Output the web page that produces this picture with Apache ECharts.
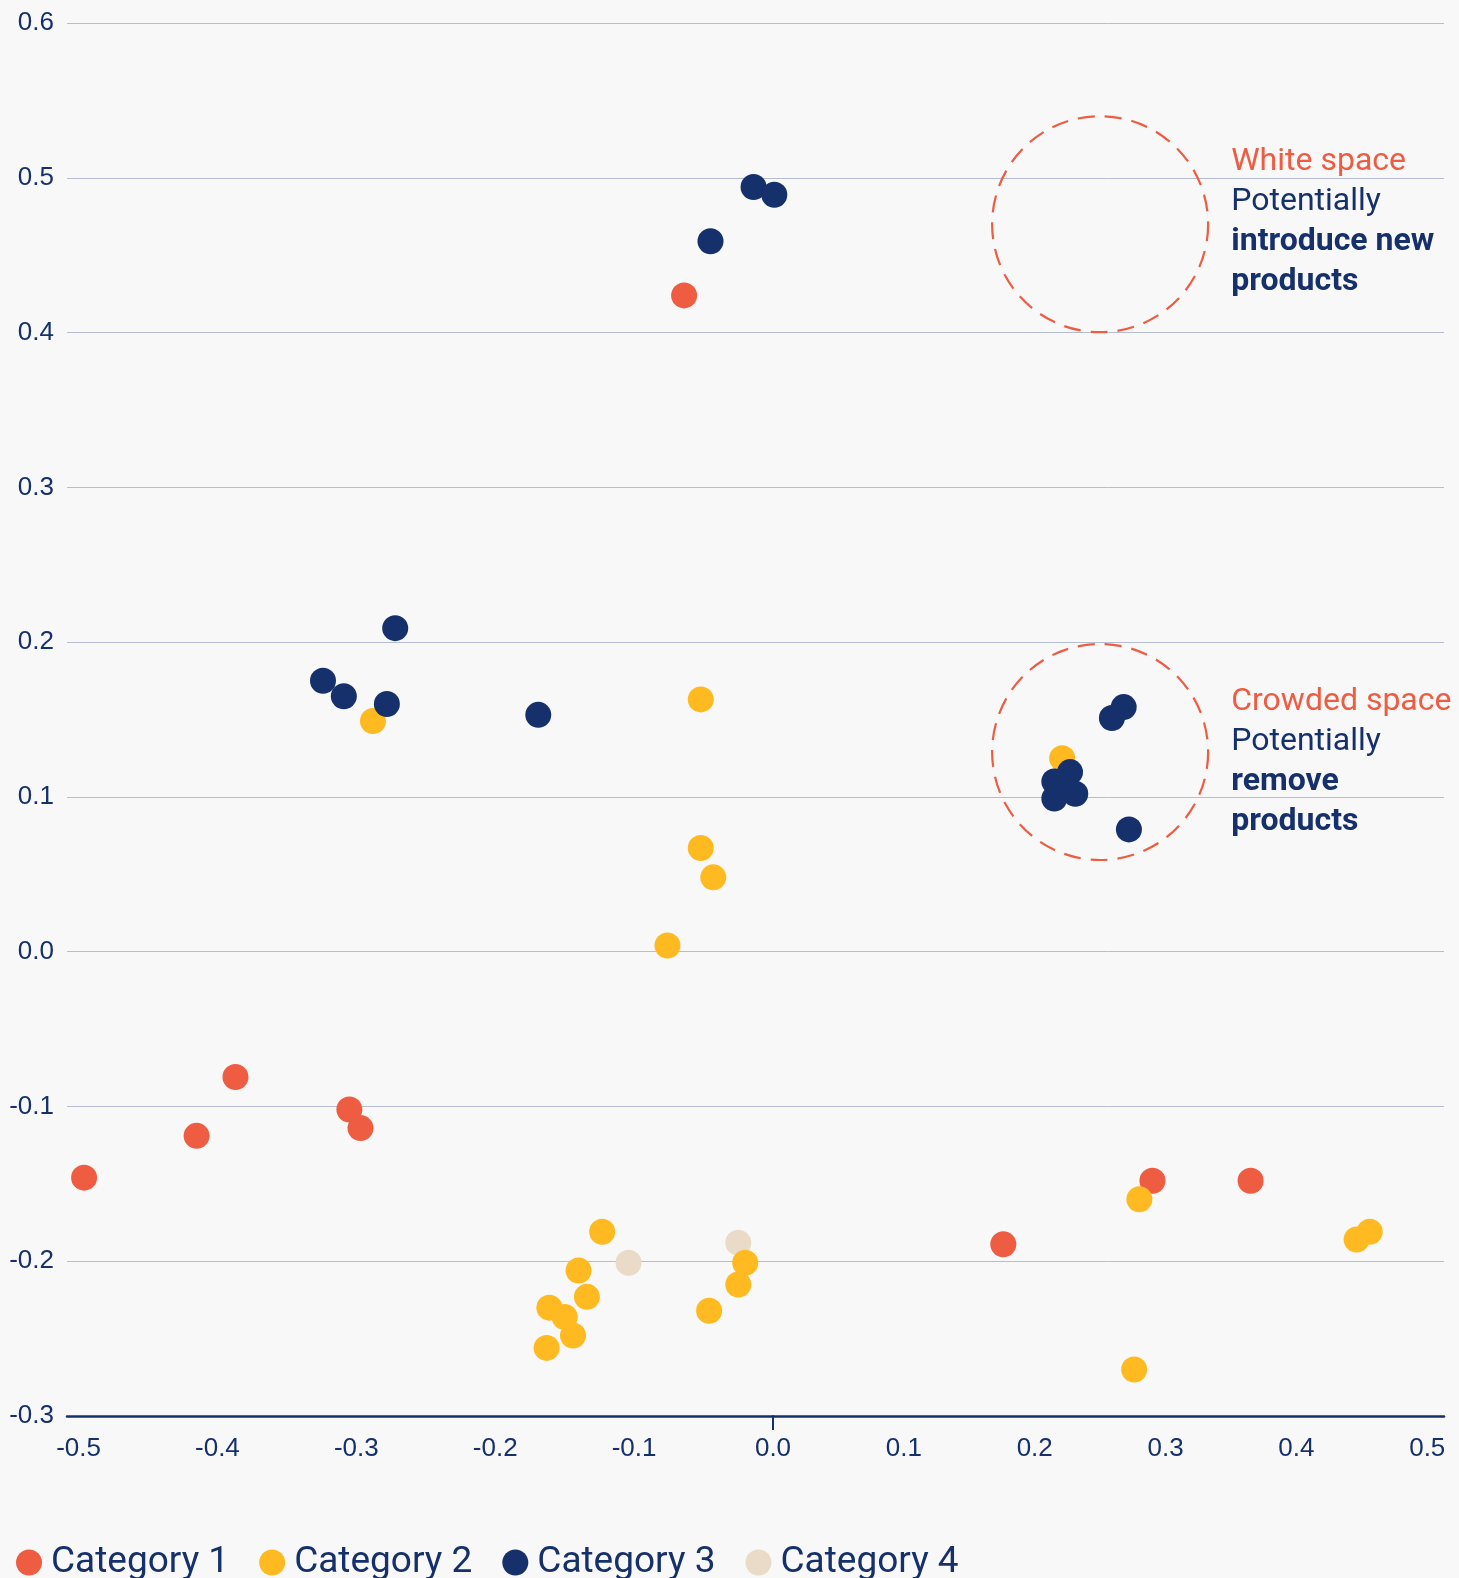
<!DOCTYPE html>
<html>
<head>
<meta charset="utf-8">
<title>Category map</title>
<script src="https://cdn.jsdelivr.net/npm/echarts@6/dist/echarts.min.js"></script>
<style>
  html, body { margin: 0; padding: 0; background: #f8f8f8; }
  #chart { width: 1459px; height: 1578px; }
</style>
</head>
<body>
<div id="chart"></div>
<script>
// ---- data ---------------------------------------------------------------
const categoryNames = ['Category 1', 'Category 2', 'Category 3', 'Category 4'];

// [x, y] positions of each item
const category1 = [
  [-0.064, 0.424], [-0.387, -0.081], [-0.415, -0.119], [-0.496, -0.146],
  [-0.305, -0.102], [-0.297, -0.114], [0.176, -0.189], [0.290, -0.148],
  [0.365, -0.148]
];
const category2 = [
  [-0.288, 0.149], [-0.052, 0.163], [-0.052, 0.067], [-0.043, 0.048],
  [-0.076, 0.004], [0.221, 0.125], [0.280, -0.160], [0.276, -0.270],
  [0.446, -0.186], [0.456, -0.181], [-0.123, -0.181], [-0.140, -0.206],
  [-0.134, -0.223], [-0.161, -0.230], [-0.150, -0.236], [-0.144, -0.248],
  [-0.163, -0.256], [-0.020, -0.201], [-0.025, -0.215], [-0.046, -0.232]
];
const category3 = [
  [-0.014, 0.494], [0.001, 0.489], [-0.045, 0.459], [-0.272, 0.209],
  [-0.324, 0.175], [-0.309, 0.165], [-0.278, 0.160], [-0.169, 0.153],
  [0.268, 0.158], [0.259, 0.151], [0.227, 0.116], [0.215, 0.110],
  [0.231, 0.102], [0.215, 0.099], [0.272, 0.079]
];
const category4 = [
  [-0.104, -0.201], [-0.025, -0.188]
];

const xLabelsNegative = [-0.5, -0.4, -0.3, -0.2, -0.1];
const xLabelsPositive = [0, 0.1, 0.2, 0.3, 0.4, 0.5];

// highlighted zones: centre, heading, remark lines
const zoneHeadings = ['White space', 'Crowded space'];
const zoneCenters = [[0.25, 0.47], [0.25, 0.129]];
const zoneRemarks = [
  ['Potentially', 'introduce new', 'products'],
  ['Potentially', 'remove', 'products']
];

// ---- styling ------------------------------------------------------------
const NAVY = '#15306b';
const CORAL = '#ee5c42';
const colors = ['#ee5c42', '#ffb921', '#15306b', '#e9dbc7'];
const layerOrder = [2, 3, 4, 1];
const FONT = 'Roboto';
const TICK_FONT = 'Liberation Sans';
const zoneLabelShift = [-2, 10];

const fmt = v => (Math.abs(v) < 1e-9 ? '0.0' : v.toFixed(1));

const categoryData = [category1, category2, category3, category4];

// the horizontal scale is split at zero: left half and right half
const series = [];
categoryData.forEach((points, i) => {
  [0, 1].forEach(side => {
    series.push({
      type: 'scatter',
      name: categoryNames[i],
      xAxisIndex: side,
      yAxisIndex: side,
      data: points.filter(p => (side === 0 ? p[0] < 0 : p[0] >= 0)),
      symbol: 'circle',
      symbolSize: 26,
      itemStyle: { color: colors[i], opacity: 1 },
      z: layerOrder[i],
      silent: true,
      emphasis: { disabled: true }
    });
  });
});

zoneCenters.forEach((c, k) => {
  const lines = ['{t|' + zoneHeadings[k] + '}', '{n|' + zoneRemarks[k][0] + '}']
    .concat(zoneRemarks[k].slice(1).map(s => '{b|' + s + '}'));
  series.push({
    type: 'scatter',
    xAxisIndex: 1,
    yAxisIndex: 1,
    data: [c],
    symbol: 'circle',
    symbolSize: 216,
    z: 0,
    silent: true,
    emphasis: { disabled: true },
    itemStyle: {
      color: 'rgba(0,0,0,0)',
      opacity: 1,
      borderColor: CORAL,
      borderWidth: 2.2,
      borderType: [17, 10]
    },
    label: {
      show: true,
      opacity: 1,
      position: 'right',
      distance: 22,
      offset: [0, zoneLabelShift[k]],
      align: 'left',
      formatter: lines.join('\n'),
      rich: {
        t: { fontFamily: FONT, fontSize: 32, lineHeight: 40, color: CORAL },
        n: { fontFamily: FONT, fontSize: 32, lineHeight: 40, color: NAVY },
        b: { fontFamily: FONT, fontSize: 32, lineHeight: 40, color: NAVY, fontWeight: 'bold' }
      }
    }
  });
});

const gridTop = 23;
const gridHeight = 1393;

const yAxisBase = {
  type: 'value',
  min: -0.3,
  max: 0.6,
  interval: 0.1,
  axisLine: { show: false, onZero: false },
  axisTick: { show: false },
  splitLine: { show: true, lineStyle: { color: '#b4bdd2', width: 1 } }
};

const xAxisBase = {
  type: 'value',
  splitLine: { show: false },
  axisLine: { show: true, onZero: false, lineStyle: { color: NAVY, width: 2.5 } },
  axisLabel: {
    fontFamily: TICK_FONT, fontSize: 26, color: NAVY, margin: 20,
    formatter: fmt, showMinLabel: true, showMaxLabel: true
  }
};

const option = {
  backgroundColor: '#f8f8f8',
  animation: false,
  grid: [
    { left: 67, width: 706, top: gridTop, height: gridHeight },
    { left: 773, width: 671, top: gridTop, height: gridHeight }
  ],
  xAxis: [
    Object.assign({}, xAxisBase, {
      gridIndex: 0, min: -0.5083, max: 0,
      axisTick: { show: false },
      axisLabel: Object.assign({}, xAxisBase.axisLabel, { customValues: xLabelsNegative })
    }),
    Object.assign({}, xAxisBase, {
      gridIndex: 1, min: 0, max: 0.5128,
      axisTick: { show: true, customValues: [0], length: 14, lineStyle: { color: NAVY, width: 2 } },
      axisLabel: Object.assign({}, xAxisBase.axisLabel, { customValues: xLabelsPositive })
    })
  ],
  yAxis: [
    Object.assign({}, yAxisBase, {
      gridIndex: 0,
      axisLabel: { fontFamily: TICK_FONT, fontSize: 26, color: NAVY, margin: 13, formatter: fmt }
    }),
    Object.assign({}, yAxisBase, {
      gridIndex: 1,
      axisLabel: { show: false }
    })
  ],
  legend: {
    data: categoryNames,
    left: 11,
    top: 1539,
    icon: 'circle',
    itemWidth: 26,
    itemHeight: 26,
    itemGap: 30,
    selectedMode: false,
    textStyle: { fontFamily: FONT, fontSize: 37, color: NAVY, padding: [0, 0, 0, 4] }
  },
  series: series
};

const chart = echarts.init(document.getElementById('chart'), null, { renderer: 'canvas' });
chart.setOption(option);
</script>
</body>
</html>
